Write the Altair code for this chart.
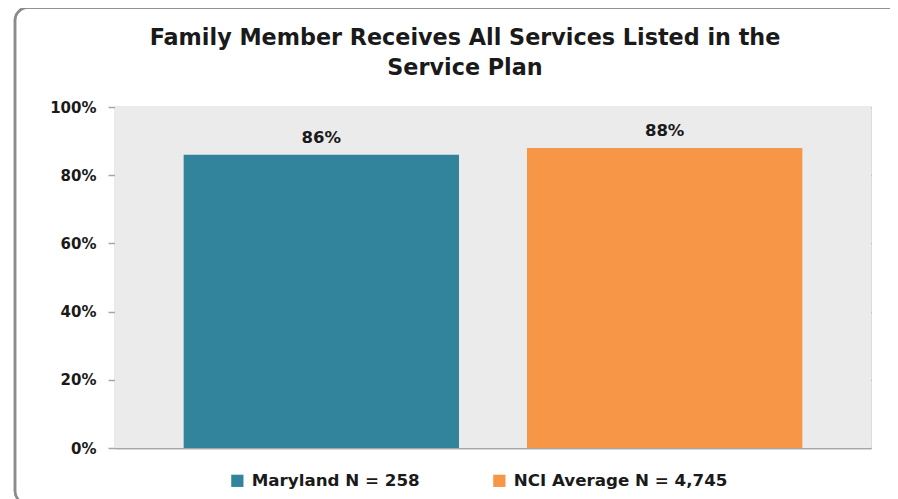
import altair as alt
import pandas as pd

groups = ["Maryland N = 258", "NCI Average N = 4,745"]
values = [0.86, 0.88]
labels = ["86%", "88%"]
colors = ["#31849B", "#F79646"]
title_lines = ["Family Member Receives All Services Listed in the", "Service Plan"]

df = pd.DataFrame({"group": groups, "value": values, "label": labels})
tdf = pd.DataFrame({"line": title_lines, "row": [0, 1]})

FONT = "DejaVu Sans"
W, H = 756, 341

x = alt.X("group:N", sort=groups,
          scale=alt.Scale(paddingInner=0.198, paddingOuter=0.2),
          axis=alt.Axis(title=None, labels=False, ticks=False, domainColor="#A6A6A6", domainWidth=1.5))
y = alt.Y("value:Q", scale=alt.Scale(domain=[0, 1]),
          axis=alt.Axis(title=None, format=".0%", values=[0, 0.2, 0.4, 0.6, 0.8, 1.0],
                        labelFont=FONT, labelFontSize=15, labelFontWeight="bold", labelColor="#1a1a1a",
                        labelPadding=12, tickSize=7, tickColor="#A6A6A6", tickWidth=1.5,
                        domainColor="#A6A6A6", domainWidth=1.5,
                        gridColor="#A6A6A6", gridWidth=1.5))

bg = alt.Chart(df).mark_rect(fill="#EBEBEB", strokeWidth=0).encode(
    x=alt.value(0), x2=alt.value(W), y=alt.value(0), y2=alt.value(H)
)

border = alt.Chart(df).mark_rect(fill="transparent", stroke="#8C8C8C", strokeWidth=2.5, cornerRadius=13, clip=False).encode(
    x=alt.value(-100), x2=alt.value(820), y=alt.value(-99.5), y2=alt.value(397)
)

bars = alt.Chart(df).mark_bar().encode(
    x=x, y=y,
    color=alt.Color("group:N", sort=groups, scale=alt.Scale(domain=groups, range=colors),
                    legend=alt.Legend(title=None, orient="none", legendX=114, legendY=365,
                                      direction="horizontal", symbolType="square", symbolSize=150,
                                      symbolStrokeWidth=0, labelFont=FONT, labelFontSize=16.7,
                                      labelFontWeight="bold", labelColor="#1a1a1a", labelLimit=0,
                                      columnPadding=71, labelOffset=6)),
)

text = alt.Chart(df).mark_text(dy=-17, font=FONT, fontSize=16.5, fontWeight="bold", color="#1a1a1a").encode(
    x=alt.X("group:N", sort=groups), y="value:Q", text="label:N"
)

def title_line(i, ypix):
    return alt.Chart(tdf).transform_filter(alt.datum.row == i).mark_text(
        font=FONT, fontSize=22.3, fontWeight="bold", color="#1a1a1a", baseline="middle", align="center"
    ).encode(x=alt.value(350), y=alt.value(ypix), text="line:N")

chart = alt.layer(bg, bars, text, title_line(0, -69), title_line(1, -39), border).properties(
    width=W, height=H,
    autosize=alt.AutoSizeParams(type="none"),
    padding={"left": 107, "top": 99, "right": 19, "bottom": 51},
).configure_view(strokeWidth=0).configure(background="white")

chart.save("out.html", embed_options={"renderer": "svg", "actions": False})
